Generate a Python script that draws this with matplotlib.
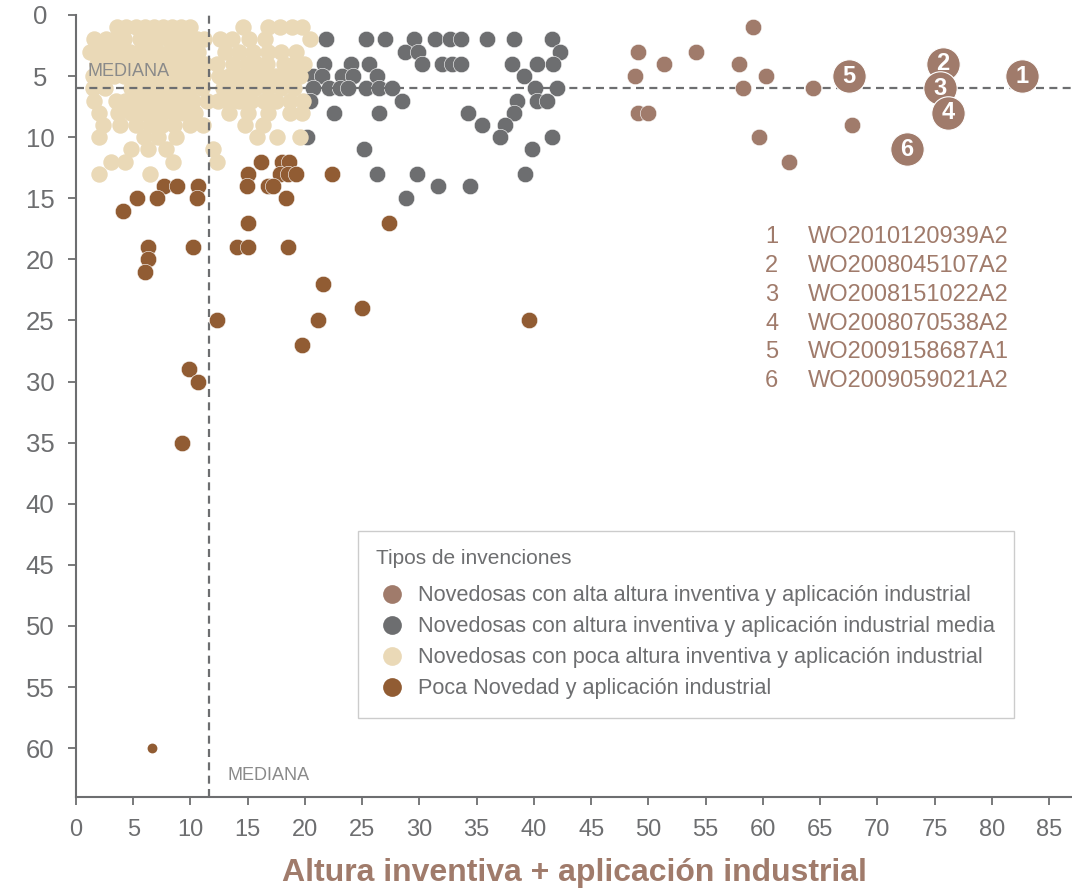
import matplotlib
matplotlib.use("Agg")
import matplotlib.pyplot as plt
from matplotlib.lines import Line2D

plt.rcParams['font.family'] = ['Liberation Sans', 'DejaVu Sans']

# --- colours ---
c_alta = '#a07b6b'
c_media = '#6d6e70'
c_poca = '#ead9b7'
c_baja = '#915c33'
c_axis = '#6d6e70'

# --- medians ---
median_x = 11.6
median_y = 6

# --- novedosas con alta altura inventiva (plain points) ---
alta_x = [59.1, 49.1, 51.4, 54.2, 48.8, 57.9, 60.3, 58.3, 64.4, 49.1, 50.0, 67.8, 59.7, 62.3]
alta_y = [1, 3, 4, 3, 5, 4, 5, 6, 6, 8, 8, 9, 10, 12]

# --- highlighted patents (numbered) ---
top_ids = ['2', '3', '4', '5', '6', '1']
top_x = [75.7, 75.5, 76.2, 67.5, 72.6, 82.6]
top_y = [4, 6, 8, 5, 11, 5]
top_codes = ['WO2010120939A2', 'WO2008045107A2', 'WO2008151022A2',
             'WO2008070538A2', 'WO2009158687A1', 'WO2009059021A2']

# --- novedosas con altura inventiva media ---
media_rows = {
    2: [21.8, 25.3, 27.0, 29.5, 31.4, 32.7, 33.6, 35.9, 38.3, 41.6],
    3: [28.7, 29.9, 42.3],
    4: [21.7, 24.0, 25.6, 30.2, 32.0, 32.8, 33.6, 38.1, 40.3, 41.7],
    5: [20.7, 21.5, 23.2, 24.2, 26.3, 39.1],
    6: [20.7, 22.1, 23.1, 23.8, 25.3, 26.5, 27.6, 40.1, 42.0],
    7: [20.4, 28.5, 38.5, 40.3, 41.1],
    8: [22.5, 26.5, 34.2, 38.3],
    9: [35.5, 37.5],
    10: [20.2, 37.0, 41.6],
    11: [25.2, 39.8],
    13: [26.3, 29.8, 39.2],
    14: [31.6, 34.4],
    15: [28.8],
}

# --- novedosas con poca altura inventiva ---
poca_rows = {
    1: [3.6, 4.4, 5.2, 6.0, 6.8, 7.6, 8.4, 9.2, 10.0, 14.6, 16.8, 17.8, 18.9, 19.7],
    2: [1.6, 2.6, 3.4, 4.2, 5.6, 6.3, 7.1, 8.0, 8.8, 9.7, 10.6, 11.2, 12.6, 13.6, 15.1, 16.5, 20.4],
    3: [1.2, 2.0, 3.0, 3.8, 4.7, 5.5, 6.4, 7.2, 8.1, 9.0, 9.8, 10.7, 13.0, 14.2, 15.5, 16.8, 17.9, 19.2],
    4: [1.8, 2.7, 3.6, 4.5, 5.3, 6.2, 7.0, 7.9, 8.8, 9.6, 10.5, 11.3, 12.3, 13.7, 14.9, 15.8, 16.7, 18.2, 19.0, 19.9],
    5: [1.5, 2.4, 3.3, 4.2, 5.0, 5.9, 6.8, 7.6, 8.5, 9.4, 10.2, 11.1, 12.5, 13.4, 14.4, 15.4, 16.3, 17.5, 18.6, 19.6],
    6: [1.5, 2.5, 4.8, 5.6, 6.5, 7.4, 8.3, 9.1, 10.0, 11.0, 12.8, 13.8, 14.7, 15.6, 16.8, 17.9, 19.0],
    7: [1.6, 3.5, 4.3, 5.1, 5.8, 6.7, 7.6, 8.5, 9.3, 10.2, 11.4, 12.4, 13.3, 14.2, 15.3, 16.4, 17.5, 18.7, 19.8],
    8: [2.0, 3.7, 4.8, 5.7, 6.6, 7.5, 8.5, 9.4, 10.4, 13.4, 15.0, 16.8, 18.7, 19.7],
    9: [2.4, 3.8, 5.2, 6.5, 7.5, 8.6, 10.0, 11.1, 14.8, 16.3],
    10: [2.0, 5.9, 7.2, 8.7, 15.8, 17.6, 19.6],
    11: [4.8, 6.3, 7.9, 12.0],
    12: [3.1, 4.3, 8.5, 12.3],
    13: [2.0, 6.5],
}

# --- poca novedad ---
baja_x = [16.2, 18.0, 18.6, 15.0, 17.8, 18.5, 19.2, 22.4, 7.7, 8.8, 10.7, 14.9, 16.8, 17.2,
          5.3, 7.1, 10.6, 18.3, 4.1, 15.0, 27.3, 6.3, 10.2, 14.1, 15.0, 18.5, 6.3, 6.0,
          21.6, 25.0, 12.3, 21.1, 39.6, 19.7, 9.9, 10.7, 9.3]
baja_y = [12, 12, 12, 13, 13, 13, 13, 13, 14, 14, 14, 14, 14, 14,
          15, 15, 15, 15, 16, 17, 17, 19, 19, 19, 19, 19, 20, 21,
          22, 24, 25, 25, 25, 27, 29, 30, 35]
baja_small_x = [6.6]
baja_small_y = [60]

legend_labels = ['Novedosas con alta altura inventiva y aplicación industrial',
                 'Novedosas con altura inventiva y aplicación industrial media',
                 'Novedosas con poca altura inventiva y aplicación industrial',
                 'Poca Novedad y aplicación industrial']

media_x = [x for r, xs in media_rows.items() for x in xs]
media_y = [r for r, xs in media_rows.items() for x in xs]
poca_x = [x for r, xs in poca_rows.items() for x in xs]
poca_y = [r for r, xs in poca_rows.items() for x in xs]

fig = plt.figure(figsize=(10.72, 8.91), dpi=100)
ax = fig.add_axes([76 / 1072, 94 / 891, 996 / 1072, 782 / 891])

s = 140
ax.scatter(media_x, media_y, s=s, c=c_media, edgecolors='white', linewidths=0.4, zorder=3)
ax.scatter(poca_x, poca_y, s=s, c=c_poca, linewidths=0, zorder=4)
ax.scatter(baja_x, baja_y, s=s, c=c_baja, edgecolors='white', linewidths=0.4, zorder=5)
ax.scatter(baja_small_x, baja_small_y, s=50, c=c_baja, linewidths=0, zorder=5)
ax.scatter(alta_x, alta_y, s=s, c=c_alta, edgecolors='white', linewidths=0.4, zorder=5)

for i, (lab, x, y) in enumerate(zip(top_ids, top_x, top_y)):
    ax.scatter([x], [y], s=580, c=c_alta, edgecolors='white', linewidths=0.8, zorder=6 + i)
    ax.text(x, y, lab, color='white', fontsize=17, fontweight='bold',
            ha='center', va='center', zorder=6 + i)

# median lines
ax.axvline(median_x, color=c_axis, lw=1.6, dashes=(3.6, 2.4), zorder=4.5)
ax.axhline(median_y, color=c_axis, lw=1.6, dashes=(3.6, 2.4), zorder=4.5)
ax.text(1.0, 4.6, 'MEDIANA', color='#8a8a8a', fontsize=13, va='center', ha='left', zorder=8)
ax.text(13.2, 62.2, 'MEDIANA', color='#8a8a8a', fontsize=13, va='center', ha='left', zorder=8)

# patent list
for i, code in enumerate(top_codes):
    yy = 18.14 + i * 2.37
    ax.text(60.2, yy, str(i + 1), color=c_alta, fontsize=17, va='center', ha='left')
    ax.text(63.9, yy, code, color=c_alta, fontsize=17, va='center', ha='left')

ax.set_xlim(0, 87)
ax.set_ylim(64, 0)
ax.set_xticks(range(0, 86, 5))
ax.set_yticks(range(0, 61, 5))

for sp in ['top', 'right']:
    ax.spines[sp].set_visible(False)
for sp in ['left', 'bottom']:
    ax.spines[sp].set_color(c_axis)
    ax.spines[sp].set_linewidth(1.5)

ax.tick_params(axis='both', direction='out', length=6, width=1.3, color=c_axis, labelcolor=c_axis)
ax.tick_params(axis='x', labelsize=17, pad=10)
ax.tick_params(axis='y', labelsize=18.5, pad=20)
for t in ax.get_yticklabels():
    t.set_ha('center')

ax.set_xlabel('Altura inventiva + aplicación industrial', fontsize=23, fontweight='bold',
              color=c_alta, labelpad=12)

handles = [Line2D([], [], ls='', marker='o', markersize=13.5, markerfacecolor=c, markeredgewidth=0)
           for c in [c_alta, c_media, c_poca, c_baja]]
leg = ax.legend(handles, legend_labels, title='Tipos de invenciones', loc='upper left',
                bbox_to_anchor=(358 / 1072, 1 - 531 / 891), bbox_transform=fig.transFigure,
                borderaxespad=0, fontsize=15.6, title_fontsize=15, alignment='left',
                frameon=True, fancybox=False, edgecolor='#cccccc', framealpha=1,
                labelspacing=0.46, handlelength=1.4, handletextpad=0.53, borderpad=0.85,
                labelcolor=c_axis)
leg.get_title().set_color(c_axis)
leg.get_frame().set_linewidth(1.0)
leg._legend_box.sep = 0.46 * 15.6 + 5  # a bit more room under the title
leg.set_zorder(10)

fig.savefig('out.png', dpi=100)
